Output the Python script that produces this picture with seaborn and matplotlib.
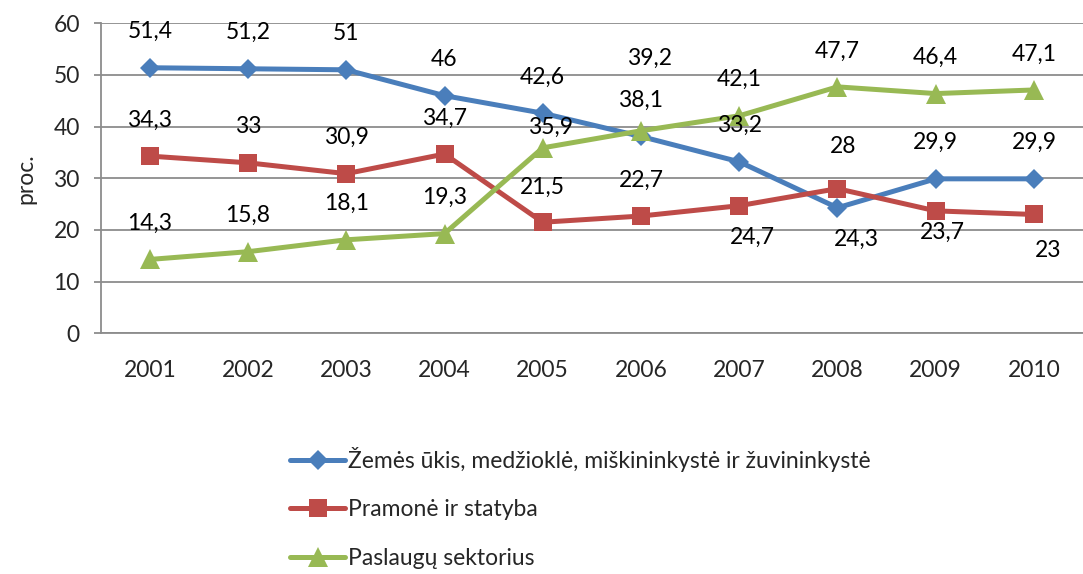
import numpy as np
import pandas as pd
import matplotlib
matplotlib.use("Agg")
import matplotlib.pyplot as plt
import seaborn as sns

# --- DATA ---
years = ["2001", "2002", "2003", "2004", "2005", "2006", "2007", "2008", "2009", "2010"]
agri = [51.4, 51.2, 51, 46, 42.6, 38.1, 33.2, 24.3, 29.9, 29.9]
industry = [34.3, 33, 30.9, 34.7, 21.5, 22.7, 24.7, 28, 23.7, 23]
services = [14.3, 15.8, 18.1, 19.3, 35.9, 39.2, 42.1, 47.7, 46.4, 47.1]

series_names = [
    "Žemės ūkis, medžioklė, miškininkystė ir žuvininkystė",
    "Pramonė ir statyba",
    "Paslaugų sektorius",
]
y_ticks = [0, 10, 20, 30, 40, 50, 60]

# --- STYLE ---
colors = ["#4A7EBB", "#BE4B48", "#98B954"]
markers = ["D", "s", "^"]
marker_sizes = [10, 13, 14]
FS = 16.5

# data label offsets in pixels (default: straight above)
DEFAULT_OFF = (0, 36)
label_offsets = {
    (0, 7): (19, -32),
    (1, 4): (0, 35),
    (1, 6): (13, -32),
    (1, 7): (6, 42),
    (1, 8): (7, -21),
    (1, 9): (14, -36),
    (2, 4): (8, 20),
    (2, 5): (9, 72),
}

sns.set_theme(style="white")
plt.rcParams["font.family"] = ["Lato", "DejaVu Sans"]

fig = plt.figure(figsize=(10.83, 5.74), dpi=100)
ax = fig.add_axes([0.093, 0.4193, 0.907, 0.5401])

x = np.arange(len(years))
df = pd.DataFrame({"x": x, "agri": agri, "industry": industry, "services": services})

for i, col in enumerate(["agri", "industry", "services"]):
    sns.lineplot(data=df, x="x", y=col, ax=ax, color=colors[i], marker=markers[i],
                 markersize=marker_sizes[i], markeredgewidth=0, linewidth=3.6,
                 label=series_names[i], legend=False, zorder=3 + i)

for i, vals in enumerate([agri, industry, services]):
    for j, v in enumerate(vals):
        dx, dy = label_offsets.get((i, j), DEFAULT_OFF)
        ax.annotate(f"{v:g}".replace(".", ","), (x[j], v), xytext=(dx, dy),
                    textcoords="offset pixels", ha="center", va="center",
                    fontsize=FS, color="black", zorder=10)

ax.set_ylim(0, 60)
ax.set_xlim(-0.5, 9.41)
ax.set_yticks(y_ticks)
ax.yaxis.grid(True, color="#8C8C8C", linewidth=1.3)
ax.set_axisbelow(True)

ax.set_xticks(x)
ax.set_xticklabels(years)
ax.set_xticks(np.arange(-0.5, 10, 1), minor=True)
ax.tick_params(axis="x", which="major", length=0, pad=19, labelsize=FS)
ax.tick_params(axis="x", which="minor", length=6.5, width=1.3, color="#8C8C8C", direction="out")
ax.tick_params(axis="y", which="major", length=5, width=1.3, color="#8C8C8C", direction="out",
               pad=10, labelsize=FS, left=True)

for side in ["top", "right"]:
    ax.spines[side].set_visible(False)
for side in ["left", "bottom"]:
    ax.spines[side].set_color("#8C8C8C")
    ax.spines[side].set_linewidth(1.3)

ax.set_xlabel("")
ax.set_ylabel("proc.", fontsize=FS, labelpad=12)

handles, labels = ax.get_legend_handles_labels()
fig.legend(handles, labels, loc="upper left", bbox_to_anchor=(0.268, 0.222),
           frameon=False, fontsize=FS, handlelength=2.4, handletextpad=0.12,
           labelspacing=1.2, borderpad=0, borderaxespad=0)

fig.savefig("out.png", dpi=100)
